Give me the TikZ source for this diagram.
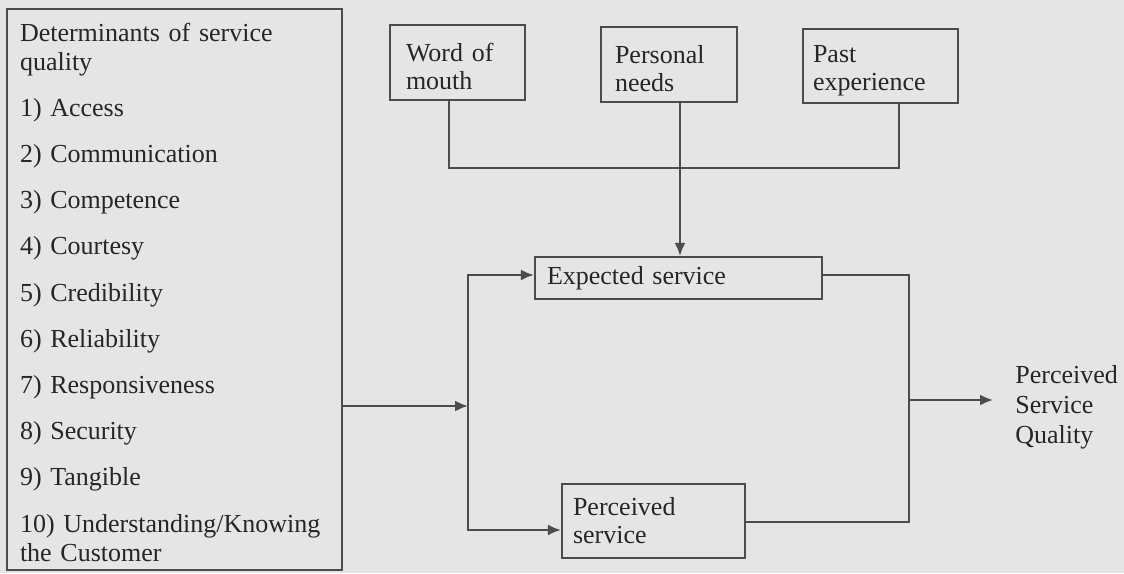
\documentclass[tikz,border=0pt]{standalone}
\usepackage{fontspec}
\setmainfont{Liberation Serif}
\usetikzlibrary{arrows.meta}

\definecolor{paper}{gray}{0.90}
\definecolor{ink}{gray}{0.15}
\definecolor{rule}{gray}{0.30}

\tikzset{
  sqbox/.style={draw=rule, line width=1.1pt, text=ink, align=left,
    font=\fontsize{13}{14}\selectfont},
  link/.style={draw=rule, line width=1.1pt},
}

\begin{document}
\begin{tikzpicture}[x=0.5pt, y=-0.5pt, >={Latex[length=6.5pt,width=5.5pt]}]

  \fill[paper] (0,0) rectangle (1124,573);
  \useasboundingbox (0,0) rectangle (1124,573);

  % list of determinants
  \node[sqbox, text width=154.5pt, inner xsep=6.5pt, inner ysep=0pt,
        font=\fontsize{13}{14.5}\selectfont] (determinants) at (174.5,289.5)
    {\rule{0pt}{16pt}Determinants of service\\quality\\[8.6pt]
     1) Access\\[8.6pt]
     2) Communication\\[8.6pt]
     3) Competence\\[8.6pt]
     4) Courtesy\\[8.6pt]
     5) Credibility\\[8.6pt]
     6) Reliability\\[8.6pt]
     7) Responsiveness\\[8.6pt]
     8) Security\\[8.6pt]
     9) Tangible\\[8.6pt]
     10) Understanding/Knowing\\the Customer\rule[-4.5pt]{0pt}{4.5pt}};

  % sources of expectation
  \node[sqbox, minimum height=37.5pt, text width=51.5pt, inner xsep=8pt] (word) at (457.5,62.5) {\rule{0pt}{13pt}Word of\\mouth};
  \node[sqbox, minimum height=37.5pt, text width=54pt, inner xsep=7pt] (needs) at (669,64.5) {\rule{0pt}{13pt}Personal\\needs};
  \node[sqbox, minimum height=37pt, text width=67.5pt, inner xsep=5pt] (past) at (880.5,66) {\rule{0pt}{13pt}Past\\experience};

  % service boxes
  \node[sqbox, minimum height=21pt, text width=131.5pt, inner xsep=6pt] (expected) at (678.5,278) {Expected service};
  \node[sqbox, minimum height=37pt, text width=80.5pt, inner xsep=5.5pt] (perceived) at (653.5,521) {Perceived\\service};

  \node[text=ink, align=left, anchor=west, inner xsep=11pt,
        font=\fontsize{13}{15}\selectfont] (quality) at (993,407) {Perceived\\Service\\Quality};

  \coordinate (wm) at (449,168);
  \coordinate (pn) at (680,168);
  \coordinate (pe) at (899,168);
  \coordinate (jt) at (468,275);
  \coordinate (jm) at (468,406);
  \coordinate (jb) at (468,530);
  \coordinate (rt) at (909,275);
  \coordinate (rm) at (909,400);
  \coordinate (rb) at (909,522);

  \draw[link] (word.south -| wm) -- (wm) -- (pe) -- (past.south -| pe);
  \draw[link, ->] (needs.south -| pn) -- (expected.north -| pn);

  \draw[link, ->] (determinants.east |- jm) -- (jm);
  \draw[link, <->] (expected.west |- jt) -- (jt) -- (jb) -- (perceived.west |- jb);

  \draw[link] (expected.east |- rt) -- (rt) -- (rb) -- (perceived.east |- rb);
  \draw[link, ->] (rm) -- (quality.west |- rm);

\end{tikzpicture}
\end{document}
